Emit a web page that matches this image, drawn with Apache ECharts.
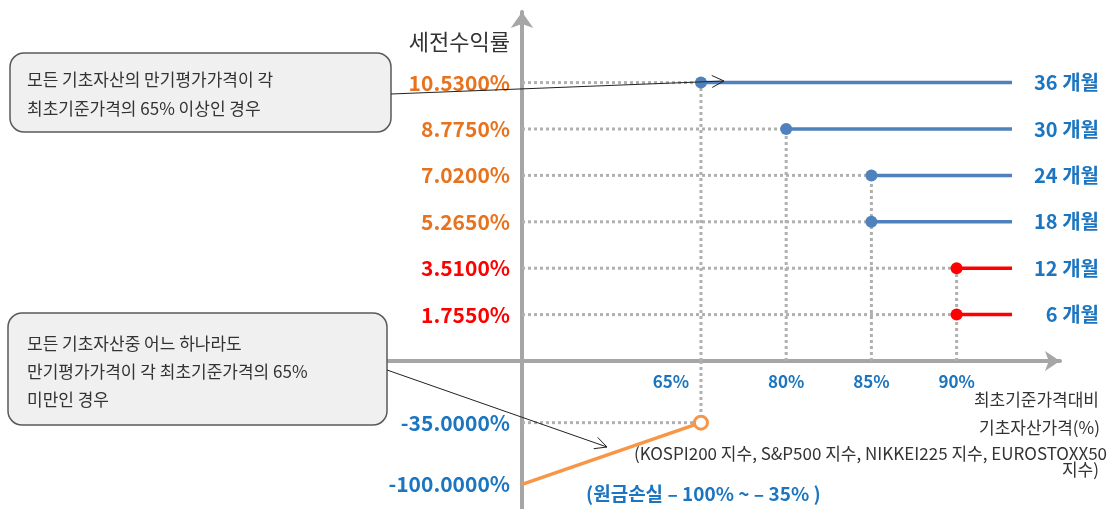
<!DOCTYPE html>
<html><head><meta charset="utf-8">
<script src="https://cdn.jsdelivr.net/npm/echarts@6/dist/echarts.min.js"></script>
<style>html,body{margin:0;padding:0;background:#fff}#c{width:1112px;height:509px}</style>
</head><body><div id="c"></div>
<script>
// ---- data ----
const barrierLevels = [65, 80, 85, 90];
const barrierLabels = ['65%', '80%', '85%', '90%'];
const periodNames = ['36 개월', '30 개월', '24 개월', '18 개월', '12 개월', '6 개월'];
const periodMonths = [36, 30, 24, 18, 12, 6];
const coupons = [10.53, 8.775, 7.02, 5.265, 3.51, 1.755];
const periodBarriers = [65, 80, 85, 85, 90, 90];
const lossPrices = [0, 65];
const lossReturns = [-100, -35];

// ---- layout / style ----
const FONT = '"Noto Sans CJK KR", "Noto Sans", sans-serif';
const X_MIN = -2.1, X_MAX = 3.65;   // ordinal barrier axis (rank units)
const Y_MAX = 13.2;
const C_BLUE_LINE = '#4f81bd', C_RED = '#ff0000', C_ORANGE_LINE = '#f79646';
const C_ORANGE_TXT = '#e8731f', C_BLUE_TXT = '#1b75c0', C_AXIS = '#a6a6a6', C_DOT = '#b0b0b0';

const pct = v => v.toFixed(4) + '%';
const rankOf = b => barrierLevels.indexOf(b);
const isEarly = i => periodMonths[i] <= 12;
const lossX = p => p === 0 ? X_MIN : rankOf(p);
// ordinal loss scale: each loss level gets its own row; zero line sits one row above the last
const lossRow = r => r === 0 ? lossReturns.length : lossReturns.indexOf(r);
const couponIndex = v => coupons.findIndex(c => Math.abs(c - v) < 1e-6);

const dotted = { color: C_DOT, width: 3, type: [3, 3], cap: 'butt' };
const series = [];

// horizontal dotted guides
coupons.forEach((c, i) => {
  series.push({ type: 'line', xAxisIndex: 0, yAxisIndex: 0, silent: true, z: 2, symbol: 'none',
    data: [[X_MIN, c], [rankOf(periodBarriers[i]), c]], lineStyle: dotted });
});
// vertical dotted guides
barrierLevels.forEach(b => {
  const top = Math.max(...coupons.filter((c, i) => periodBarriers[i] === b));
  series.push({ type: 'line', xAxisIndex: 0, yAxisIndex: 0, silent: true, z: 2, symbol: 'none',
    data: [[rankOf(b), 0], [rankOf(b), top]], lineStyle: dotted });
});
// payoff lines
coupons.forEach((c, i) => {
  const col = isEarly(i) ? C_RED : C_BLUE_LINE;
  series.push({ type: 'line', xAxisIndex: 0, yAxisIndex: 0, z: 5, showSymbol: true,
    data: [{ value: [rankOf(periodBarriers[i]), c], symbol: 'circle', symbolSize: 12 },
           { value: [X_MAX, c], symbol: 'none' }],
    lineStyle: { color: col, width: 3.5 }, itemStyle: { color: col } });
});
// loss part
const lastP = lossPrices[lossPrices.length - 1], lastR = lossReturns[lossReturns.length - 1];
series.push({ type: 'line', xAxisIndex: 1, yAxisIndex: 2, silent: true, z: 2, symbol: 'none',
  data: [[X_MIN, lossRow(lastR)], [lossX(lastP), lossRow(lastR)]], lineStyle: dotted });
series.push({ type: 'line', xAxisIndex: 1, yAxisIndex: 2, silent: true, z: 2, symbol: 'none',
  data: [[lossX(lastP), lossRow(0)], [lossX(lastP), lossRow(lastR)]], lineStyle: dotted });
series.push({ type: 'line', xAxisIndex: 1, yAxisIndex: 2, z: 5, showSymbol: true,
  data: lossPrices.map((p, i) => i === lossPrices.length - 1
    ? { value: [lossX(p), lossRow(lossReturns[i])], symbol: 'circle', symbolSize: 13,
        itemStyle: { color: '#fff', borderColor: C_ORANGE_LINE, borderWidth: 3 } }
    : { value: [lossX(p), lossRow(lossReturns[i])], symbol: 'none' }),
  lineStyle: { color: C_ORANGE_LINE, width: 3.5 }, itemStyle: { color: C_ORANGE_LINE } });

// ---- annotations ----
function arrowHead(x1, y1, x2, y2, len, half) {
  const dx = x2 - x1, dy = y2 - y1, L = Math.hypot(dx, dy), ux = dx / L, uy = dy / L;
  const bx = x2 - ux * len, by = y2 - uy * len;
  return [[bx - uy * half, by + ux * half], [x2, y2], [bx + uy * half, by - ux * half]];
}
const txt = (t, x, y, opt) => Object.assign({ type: 'text', z: 100, style: Object.assign({
  text: t, x: x, y: y, font: '17px ' + FONT, fill: '#333', textAlign: 'left', textVerticalAlign: 'middle' }, opt || {}) });
const a1 = [391, 94, 724, 81], a2 = [387, 370, 607, 447];
const graphic = [
  { type: 'rect', z: 90, shape: { x: 10, y: 53, width: 381, height: 79, r: 14 },
    style: { fill: '#f0f0f0', stroke: '#595959', lineWidth: 1.5 } },
  txt('모든 기초자산의 만기평가가격이 각', 27, 80),
  txt('최초기준가격의 65% 이상인 경우', 27, 109),
  { type: 'rect', z: 90, shape: { x: 8, y: 313, width: 379, height: 112, r: 14 },
    style: { fill: '#f0f0f0', stroke: '#595959', lineWidth: 1.5 } },
  txt('모든 기초자산중 어느 하나라도', 27, 344),
  txt('만기평가가격이 각 최초기준가격의 65%', 27, 372),
  txt('미만인 경우', 27, 400),
  { type: 'line', z: 100, shape: { x1: a1[0], y1: a1[1], x2: a1[2], y2: a1[3] }, style: { stroke: '#222', lineWidth: 1 } },
  { type: 'polyline', z: 100, shape: { points: arrowHead(...a1, 12, 6) }, style: { stroke: '#222', lineWidth: 1, fill: null } },
  { type: 'line', z: 100, shape: { x1: a2[0], y1: a2[1], x2: a2[2], y2: a2[3] }, style: { stroke: '#222', lineWidth: 1 } },
  { type: 'polyline', z: 100, shape: { points: arrowHead(...a2, 12, 6) }, style: { stroke: '#222', lineWidth: 1, fill: null } },
  txt('세전수익률', 510, 42, { font: '22px ' + FONT, textAlign: 'right' }),
  txt('최초기준가격대비', 1099, 400, { textAlign: 'right' }),
  txt('기초자산가격(%)', 1100, 428, { textAlign: 'right' }),
  txt('(KOSPI200 지수, S&P500 지수, NIKKEI225 지수, EUROSTOXX50', 1107, 454, { textAlign: 'right' }),
  txt('지수)', 1099, 470, { textAlign: 'right' }),
  txt('(원금손실 – 100% ~ – 35% )', 586, 494, { font: 'bold 19px ' + FONT, fill: C_BLUE_TXT })
];

const axisLineStyle = { color: C_AXIS, width: 4 };
const option = {
  animation: false,
  backgroundColor: '#fff',
  textStyle: { fontFamily: FONT },
  grid: [
    { left: 522, right: 100, top: 12, bottom: 148 },
    { left: 522, right: 100, top: 361, bottom: 0 },
    { left: 380, right: 52, top: 300, bottom: 148 }
  ],
  xAxis: [
    { type: 'value', gridIndex: 0, min: X_MIN, max: X_MAX,
      axisLine: { show: false }, axisTick: { show: false }, splitLine: { show: false },
      axisLabel: { customValues: barrierLabels.map((l, i) => i), margin: 12,
        formatter: v => (v === 0 ? '{s|' : '{n|') + barrierLabels[v] + '}',
        rich: { s: { padding: [0, 60, 0, 0], color: C_BLUE_TXT, fontWeight: 'bold', fontSize: 17, fontFamily: FONT },
                n: { color: C_BLUE_TXT, fontWeight: 'bold', fontSize: 17, fontFamily: FONT } } } },
    { type: 'value', gridIndex: 1, min: X_MIN, max: X_MAX, show: false },
    { type: 'value', gridIndex: 2, min: 0, max: 1,
      axisLine: { show: true, symbol: ['none', 'arrow'], symbolSize: [15, 15], lineStyle: axisLineStyle },
      axisTick: { show: false }, axisLabel: { show: false }, splitLine: { show: false } }
  ],
  yAxis: [
    { type: 'value', gridIndex: 0, min: 0, max: Y_MAX, position: 'left',
      axisLine: { show: true, onZero: false, symbol: ['none', 'arrow'], symbolSize: [17, 16], lineStyle: axisLineStyle },
      axisTick: { show: false }, splitLine: { show: false },
      axisLabel: { customValues: coupons, margin: 12, fontSize: 21, fontWeight: 'bold', fontFamily: FONT,
        formatter: v => pct(v),
        color: v => isEarly(couponIndex(v)) ? C_RED : C_ORANGE_TXT } },
    { type: 'value', gridIndex: 0, min: 0, max: Y_MAX, position: 'right',
      axisLine: { show: false }, axisTick: { show: false }, splitLine: { show: false },
      axisLabel: { customValues: coupons, margin: 87, align: 'right', fontSize: 20, fontWeight: 'bold',
        fontFamily: FONT, color: C_BLUE_TXT, formatter: v => periodNames[couponIndex(v)] } },
    { type: 'value', gridIndex: 1, min: -0.4, max: lossReturns.length,
      axisLine: { show: true, onZero: false, lineStyle: axisLineStyle },
      axisTick: { show: false }, splitLine: { show: false },
      axisLabel: { customValues: lossReturns.map((r, i) => i), margin: 12, fontSize: 21, fontWeight: 'bold',
        fontFamily: FONT, color: C_BLUE_TXT, formatter: v => pct(lossReturns[v]) } },
    { type: 'value', gridIndex: 2, show: false }
  ],
  series: series,
  graphic: graphic
};
const chart = echarts.init(document.getElementById('c'));
chart.setOption(option);
</script></body></html>
